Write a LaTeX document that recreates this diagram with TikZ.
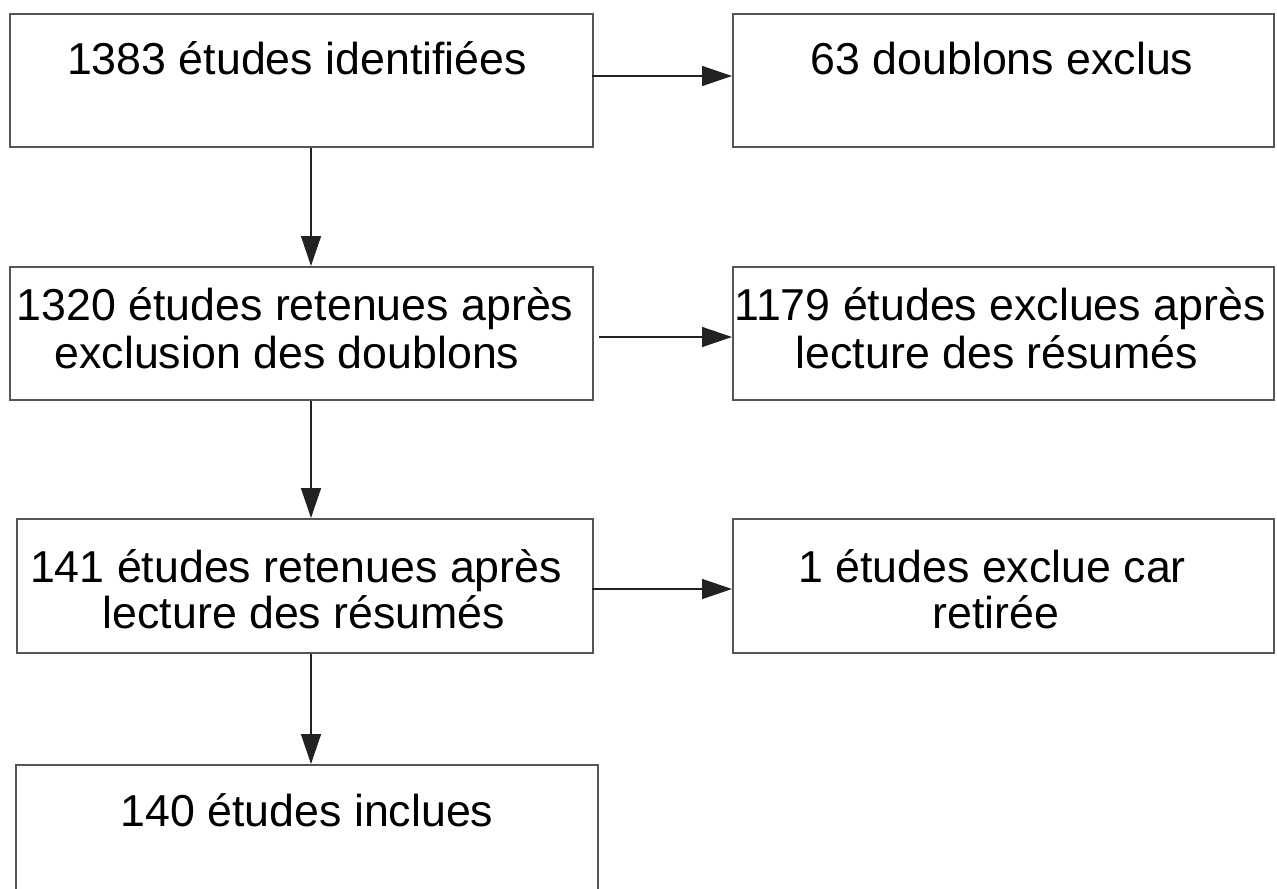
\documentclass[tikz,border=0pt]{standalone}
\usepackage{fontspec}
\setmainfont{Liberation Sans}
\usetikzlibrary{arrows.meta}
\definecolor{boxline}{HTML}{555555}
\definecolor{arrline}{HTML}{222222}
\begin{document}
\begin{tikzpicture}[x=0.5pt,y=-0.5pt,
  boxnode/.style={draw=boxline,line width=1pt,rectangle,inner sep=0pt,anchor=north west},
  txt/.style={anchor=base,inner sep=0pt,font=\fontsize{22.35}{24}\selectfont},
  conn/.style={draw=arrline,line width=0.7pt,-{Triangle[length=15pt,width=10pt]}}]
\useasboundingbox (0,0) rectangle (1277,888);
\clip (0,0) rectangle (1277,888);
% boxes
\node[boxnode,minimum width=291.5pt,minimum height=66.5pt] (b1) at (9,13) {};
\node[boxnode,minimum width=270.5pt,minimum height=66.5pt] (b2) at (732,13) {};
\node[boxnode,minimum width=291.5pt,minimum height=66.5pt] (b3) at (9,266) {};
\node[boxnode,minimum width=270.5pt,minimum height=66.5pt] (b4) at (732,266) {};
\node[boxnode,minimum width=288pt,minimum height=67pt] (b5) at (16,518) {};
\node[boxnode,minimum width=270.5pt,minimum height=67pt] (b6) at (732,518) {};
\node[boxnode,minimum width=291pt,minimum height=68pt] (b7) at (15,764) {};
% texts
\node[txt] (t1) at (297,75) {1383 études identifiées};
\node[txt] (t2) at (1002,75) {63 doublons exclus};
\node[txt] (t3a) at (295,320) {1320 études retenues après};
\node[txt] (t3b) at (287,368) {exclusion des doublons};
\node[txt] (t4a) at (1000,320) {1179 études exclues après};
\node[txt] (t4b) at (997,368) {lecture des résumés};
\node[txt] (t5a) at (296,582) {141 études retenues après};
\node[txt] (t5b) at (304,628) {lecture des résumés};
\node[txt] (t6a) at (992,582) {1 études exclue car};
\node[txt] (t6b) at (996,628) {retirée};
\node[txt] (t7) at (307,826) {140 études inclues};
% connectors
\coordinate (a1s) at (592,76);
\coordinate (a1e) at (732,76);
\draw[conn] (a1s) -- (a1e);
\coordinate (a2s) at (599,337);
\coordinate (a2e) at (732,337);
\draw[conn] (a2s) -- (a2e);
\coordinate (a3s) at (592,589);
\coordinate (a3e) at (732,589);
\draw[conn] (a3s) -- (a3e);
\draw[conn] (b1.south -| 311,0) -- (b3.north -| 311,0);
\draw[conn] (b3.south -| 311,0) -- (b5.north -| 311,0);
\draw[conn] (b5.south -| 311,0) -- (b7.north -| 311,0);
\end{tikzpicture}
\end{document}
